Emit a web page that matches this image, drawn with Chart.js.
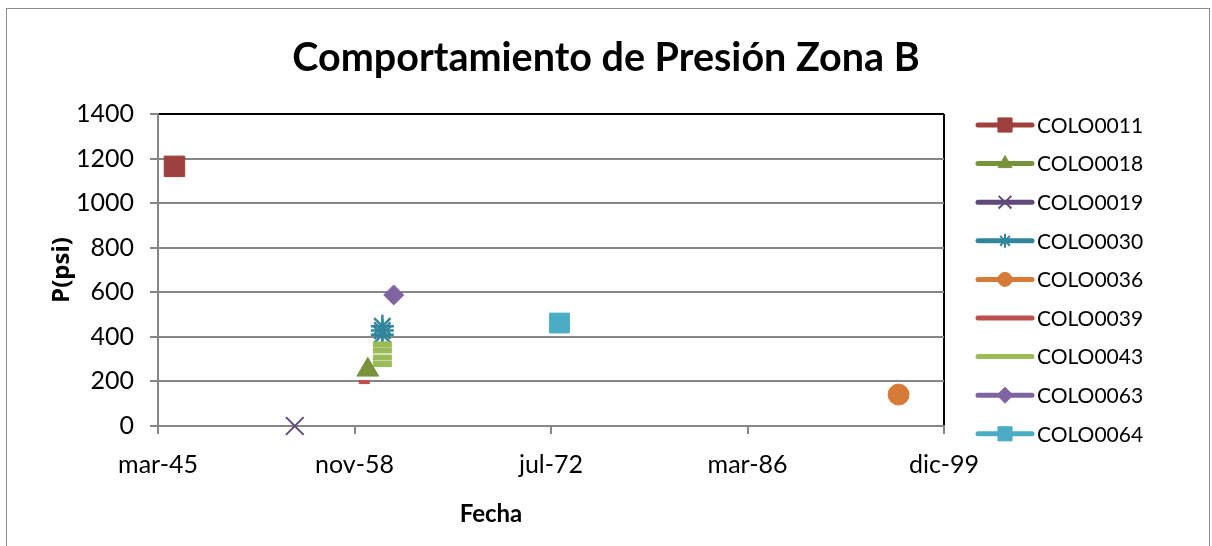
<!DOCTYPE html>
<html lang="es">
<head>
<meta charset="UTF-8">
<title>Comportamiento de Presión Zona B</title>
<script src="https://cdn.jsdelivr.net/npm/chart.js"></script>
<style>
  body { margin: 0; background: #fff; }
  #frame { position: absolute; left: 6px; top: 8px; width: 1204px; height: 560px; border: 1px solid #8c8c8c; box-sizing: border-box; }
  #wrap { position: absolute; left: 0; top: 0; width: 1212px; height: 546px; }
</style>
</head>
<body>
<div id="frame"></div>
<div id="wrap"><canvas id="chart" width="1212" height="546"></canvas></div>
<script>
  const chartTitle = 'Comportamiento de Presión Zona B';
  const xTitle = 'Fecha';
  const yTitle = 'P(psi)';

  const wells = ['COLO0011', 'COLO0018', 'COLO0019', 'COLO0030', 'COLO0036', 'COLO0039', 'COLO0043', 'COLO0063', 'COLO0064'];

  // fechas y presiones, un par de listas por pozo
  const fechas0011 = ['1946-04-27'];
  const presion0011 = [1165];
  const fechas0018 = ['1959-10-15'];
  const presion0018 = [252];
  const fechas0019 = ['1954-09-14'];
  const presion0019 = [0];
  const fechas0030 = ['1960-10-20', '1960-10-20', '1960-10-20'];
  const presion0030 = [448, 428, 410];
  const fechas0036 = ['1996-10-06'];
  const presion0036 = [141];
  const fechas0039 = ['1959-07-18'];
  const presion0039 = [197];
  const fechas0043 = ['1960-10-20', '1960-10-20', '1960-10-20', '1960-10-20'];
  const presion0043 = [366, 339, 307, 278];
  const fechas0063 = ['1961-08-05'];
  const presion0063 = [588];
  const fechas0064 = ['1973-02-21'];
  const presion0064 = [462];

  const allFechas = [fechas0011, fechas0018, fechas0019, fechas0030, fechas0036, fechas0039, fechas0043, fechas0063, fechas0064];
  const allPresion = [presion0011, presion0018, presion0019, presion0030, presion0036, presion0039, presion0043, presion0063, presion0064];

  // eje x: numeros de serie de Excel
  const xMin = 16500, xMax = 36500, xStep = 5000;
  const yMin = 0, yMax = 1400, yStep = 200;

  const colors = ['#9E403D', '#77933C', '#604A7B', '#31859C', '#D67B37', '#C0504D', '#9BBB59', '#8064A2', '#4BACC6'];
  const markers = ['rect', 'triangle', 'crossRot', 'star', 'circle', 'line', 'line', 'rectRot', 'rect'];
  const markerSize = [14.5, 12.5, 12.5, 11.5, 10.5, 5.5, 9.5, 10, 14];
  const markerBorder = [1, 1, 2, 2.5, 1, 4, 6, 1, 1];
  const legendSize = [10, 8, 9, 7, 7, 0, 0, 8, 10];

  const meses = ['ene', 'feb', 'mar', 'abr', 'may', 'jun', 'jul', 'ago', 'sep', 'oct', 'nov', 'dic'];
  const DAY = 86400000;
  const EPOCH = Date.UTC(1899, 11, 30);

  function toSerial(iso) {
    const [y, m, d] = iso.split('-').map(Number);
    return (Date.UTC(y, m - 1, d) - EPOCH) / DAY;
  }
  function serialLabel(v) {
    const d = new Date(EPOCH + v * DAY);
    return meses[d.getUTCMonth()] + '-' + String(d.getUTCFullYear()).slice(2);
  }

  const datasets = wells.map((name, i) => ({
    label: name,
    data: allFechas[i].map((f, j) => ({ x: toSerial(f), y: allPresion[i][j] })),
    showLine: false,
    clip: false,
    borderColor: colors[i],
    backgroundColor: colors[i],
    pointStyle: markers[i],
    pointRadius: markerSize[i],
    pointBorderWidth: markerBorder[i],
    order: wells.length - i
  }));

  const FONT = 'Lato';
  const gridGray = '#868686';

  const excelLegend = {
    id: 'excelLegend',
    afterDraw(chart) {
      const ctx = chart.ctx;
      ctx.save();
      ctx.fillStyle = '#000';
      ctx.textBaseline = 'middle';
      ctx.textAlign = 'center';
      ctx.font = 'bold 39.5px ' + FONT;
      ctx.fillText(chartTitle, chart.width / 2, 58);
      ctx.font = 'bold 24px ' + FONT;
      ctx.fillText(xTitle, 491, 514);

      ctx.textAlign = 'left';
      ctx.font = '21px ' + FONT;
      chart.data.datasets.forEach((ds, i) => {
        const y = 125 + i * 38.6;
        ctx.strokeStyle = ds.borderColor;
        ctx.lineWidth = 5;
        ctx.lineCap = 'round';
        ctx.beginPath();
        ctx.moveTo(978, y);
        ctx.lineTo(1032, y);
        ctx.stroke();
        if (legendSize[i] > 0 && Chart.helpers && Chart.helpers.drawPoint) {
          ctx.lineCap = 'butt';
          ctx.fillStyle = ds.backgroundColor;
          ctx.lineWidth = Math.min(ds.pointBorderWidth, 2);
          Chart.helpers.drawPoint(ctx, { pointStyle: ds.pointStyle, radius: legendSize[i], borderWidth: Math.min(ds.pointBorderWidth, 2), rotation: 0 }, 1005, y);
        }
        ctx.fillStyle = '#000';
        ctx.fillText(ds.label, 1037, y + 1);
      });
      ctx.restore();
    }
  };

  new Chart(document.getElementById('chart'), {
    type: 'scatter',
    data: { datasets },
    plugins: [excelLegend],
    options: {
      responsive: false,
      animation: false,
      events: [],
      layout: { padding: { left: 48, right: 268, top: 114, bottom: 60 } },
      plugins: {
        legend: { display: false },
        title: { display: false },
        tooltip: { enabled: false }
      },
      scales: {
        x: {
          type: 'linear',
          min: xMin,
          max: xMax,
          afterFit(scale) { scale.height = 60; },
          border: { color: gridGray, width: 2 },
          grid: {
            color: (c) => (c.tick && c.tick.value === xMax ? '#000' : 'rgba(0,0,0,0)'),
            lineWidth: 2,
            tickColor: gridGray,
            tickLength: 8
          },
          ticks: {
            stepSize: xStep,
            autoSkip: false,
            maxRotation: 0,
            padding: 16,
            color: '#000',
            font: { family: FONT, size: 25 },
            callback: (v) => serialLabel(v)
          }
        },
        y: {
          min: yMin,
          max: yMax,
          afterFit(scale) { scale.width = 110; },
          border: { color: gridGray, width: 2 },
          grid: {
            color: (c) => (c.tick && c.tick.value === yMax ? '#000' : gridGray),
            lineWidth: 2,
            tickColor: gridGray,
            tickLength: 8
          },
          ticks: {
            stepSize: yStep,
            padding: 16,
            color: '#000',
            font: { family: FONT, size: 25 },
            callback: (v) => String(v)
          },
          title: {
            display: true,
            text: yTitle,
            color: '#000',
            padding: 0,
            font: { family: 'Open Sans', size: 24, weight: 'bold' }
          }
        }
      }
    }
  });
</script>
</body>
</html>
